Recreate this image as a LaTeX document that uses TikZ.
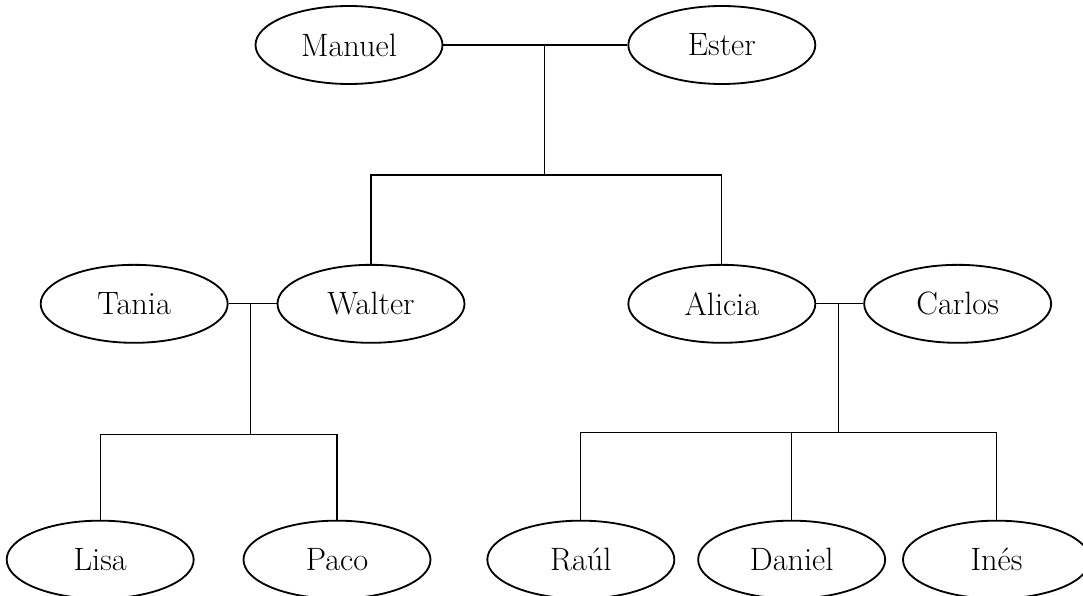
\documentclass[tikz,border=0pt]{standalone}
\usetikzlibrary{shapes,positioning,calc}

\begin{document}
\begin{tikzpicture}[
    node distance=1cm,
    person/.style={ellipse, draw, line width=1.3pt, minimum width=4.675cm, minimum height=1.95cm, inner sep=0pt, font=\fontsize{23}{27}\selectfont},
    link/.style={line width=0.9pt}
]

\useasboundingbox (0,0) rectangle (27.075,-14.9);

% Grandparents
\node[person] (manuel) at (8.725,-1.125) {Manuel};
\node[person, right=4.6cm of manuel] (ester) {Ester};

% Children and spouses
\node[person, below=4.475cm of ester] (alicia) {Alicia};
\node[person, right=1.175cm of alicia] (carlos) {Carlos};
\node[person, left=4.05cm of alicia] (walter) {Walter};
\node[person, left=1.2cm of walter] (tania) {Tania};

% Grandchildren
\node[person, below=4.4cm of tania, xshift=-0.85cm] (lisa) {Lisa};
\node[person, right=1.2cm of lisa] (paco) {Paco};
\node[person, right=1.375cm of paco] (raul) {Raúl};
\node[person, right=0.55cm of raul] (daniel) {Daniel};
\node[person, right=0.4cm of daniel] (ines) {Inés};

% Manuel + Ester
\draw[link] (manuel) -- (ester);
\coordinate (m1) at ($(manuel.east)!0.55!(ester.west)$);
\draw[link] (m1) -- ++(0,-3.25) coordinate (m1b);
\draw[link] (walter.north) |- (m1b) -| (alicia.north);

% Tania + Walter
\draw[link] (tania) -- (walter);
\coordinate (m2) at ($(tania.east)!0.45!(walter.west)$);
\draw[link] (m2) -- ++(0,-3.275) coordinate (m2b);
\draw[link] (lisa.north) |- (m2b) -| (paco.north);

% Alicia + Carlos
\draw[link] (alicia) -- (carlos);
\coordinate (m3) at ($(alicia.east)!0.47!(carlos.west)$);
\draw[link] (m3) -- ++(0,-3.225) coordinate (m3b);
\draw[link] (raul.north) |- (m3b) -| (ines.north);
\draw[link] (daniel.north) -- (daniel.north |- m3b);

\end{tikzpicture}
\end{document}
